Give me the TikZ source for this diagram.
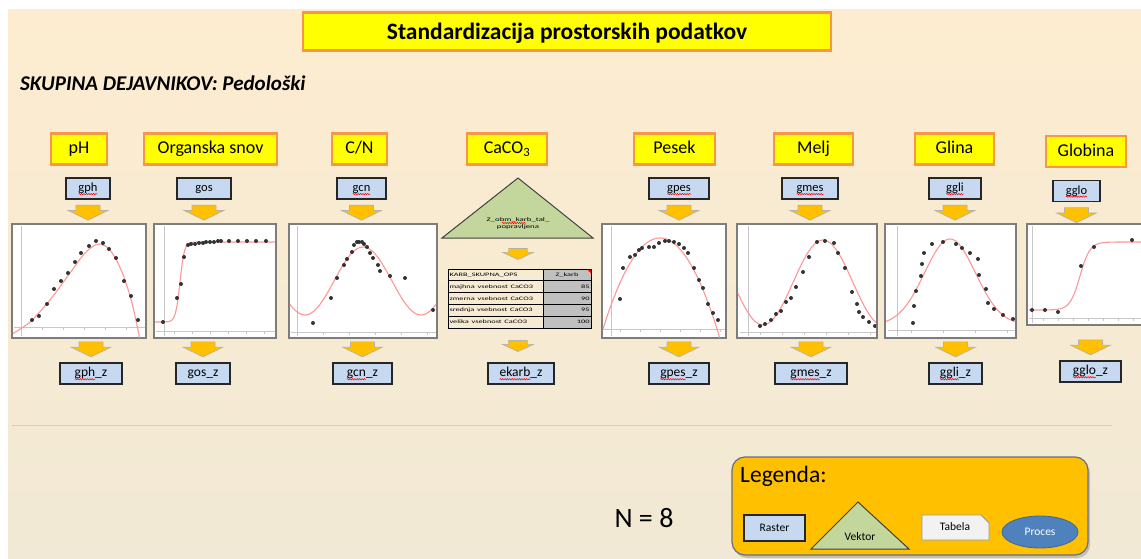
\documentclass[tikz,border=0pt]{standalone}
\usepackage{fontspec}
\setmainfont{Carlito}
\usetikzlibrary{calc,shapes.geometric,shadows,decorations.pathmorphing}

\definecolor{bgtop}{RGB}{253,236,208}
\definecolor{bgbot}{RGB}{241,233,213}
\definecolor{hdrfill}{RGB}{255,255,0}
\definecolor{hdrline}{RGB}{247,150,70}
\definecolor{rasterfill}{RGB}{198,217,241}
\definecolor{arrowfill}{RGB}{255,192,0}
\definecolor{arrowline}{RGB}{185,178,160}
\definecolor{chartline}{RGB}{125,125,125}
\definecolor{fitcolor}{RGB}{255,150,150}
\definecolor{vecfill}{RGB}{195,214,155}
\definecolor{procfill}{RGB}{79,129,189}
\definecolor{legline}{RGB}{100,112,135}
\definecolor{cellgrey}{RGB}{192,192,192}
\definecolor{sepline}{RGB}{243,200,150}

\newcommand{\xwide}[1]{\scalebox{1.6}[1]{#1}}
% red spell-check wave under the first part of a label
\newcommand{\wavy}[2]{\draw[spell] ([yshift=-2.6pt]#1.text) -- ++(#2,0);}

\begin{document}
\begin{tikzpicture}[x=1pt,y=-1pt,
	hdr/.style={draw=hdrline, line width=2.4pt, fill=hdrfill, minimum height=31pt, inner sep=0pt, text height=13.5pt, text depth=3.5pt, font=\fontsize{18}{20}\selectfont},
	raster/.style={draw=black!85, line width=1.3pt, fill=rasterfill, minimum height=21pt, inner sep=0pt, text height=9pt, text depth=3pt, font=\fontsize{12.5}{14}\selectfont},
	rasterz/.style={raster, text height=9.5pt, text depth=3.2pt, font=\fontsize{13.5}{15}\selectfont},
	chart/.style={draw=chartline, line width=2.4pt, fill=white, inner sep=0pt},
	fitcurve/.style={fitcolor, line width=1.1pt},
	dot/.style={fill=black!80},
	chartaxis/.style={black!22, line width=0.7pt},
	vecshape/.style={fill=vecfill, draw=black!75, line width=1pt},
	blockarrow/.style={fill=arrowfill, draw=arrowline, line width=0.7pt},
	spell/.style={red, line width=0.5pt, decorate, decoration={snake, amplitude=0.7pt, segment length=2.4pt}},
	cell/.style={draw=black, line width=0.9pt, inner sep=1.5pt, minimum height=11.8pt, font=\fontsize{5.2}{6}\selectfont},
	pics/blockdown/.style 2 args={code={
		\draw[blockarrow] (-0.3*#1,-0.5*#2) -- (0.3*#1,-0.5*#2) -- (0.3*#1,-0.15*#2) -- (0.5*#1,-0.15*#2) -- (0,0.5*#2) -- (-0.5*#1,-0.15*#2) -- (-0.3*#1,-0.15*#2) -- cycle;}}
]
	\useasboundingbox (0,0) rectangle (1141,559);
	\shade[top color=bgtop, bottom color=bgbot] (8,10) rectangle (1141,559);

	% title
	\node[hdr, minimum width=528pt, minimum height=38pt, text height=20pt, text depth=4pt, font=\fontsize{23.5}{25}\selectfont\bfseries] (title) at (567,31.5) {Standardizacija prostorskih podatkov};
	\node[anchor=base west, inner sep=0pt, font=\fontsize{21}{23}\selectfont\bfseries\itshape] (group) at (20,91) {SKUPINA DEJAVNIKOV: Pedološki};

	% factors
	\node[hdr, minimum width=56pt] (hph) at (79,149) {pH};
	\node[hdr, minimum width=133pt] (hos) at (210.5,149) {Organska snov};
	\node[hdr, minimum width=55pt] (hcn) at (359.5,149) {C/N};
	\node[hdr, minimum width=80pt] (hkarb) at (507,149) {CaCO\textsubscript{3}};
	\node[hdr, minimum width=81pt] (hpes) at (674.5,149) {Pesek};
	\node[hdr, minimum width=79pt] (hmes) at (813.5,149) {Melj};
	\node[hdr, minimum width=79pt] (hgli) at (954.5,149) {Glina};
	\node[hdr, minimum width=80pt] (hglo) at (1086,151.5) {Globina};

	% input rasters
	\node[raster, minimum width=44pt] (rph) at (88,188.5) {gph};
	\node[raster, minimum width=54pt] (ros) at (204,188.5) {gos};
	\node[raster, minimum width=49pt] (rcn) at (361.5,188.5) {gcn};
	\node[raster, minimum width=60pt] (rpes) at (679,188.5) {gpes};
	\node[raster, minimum width=56pt] (rmes) at (810,188.5) {gmes};
	\node[raster, minimum width=52pt] (rgli) at (955,188.5) {ggli};
	\node[raster, minimum width=47pt] (rglo) at (1076.5,191) {gglo};
	\wavy{rph}{19} \wavy{rcn}{17.7} \wavy{rpes}{23.6} \wavy{rmes}{27} \wavy{rgli}{17.5} \wavy{rglo}{21.2}

	% charts
	\node[chart, minimum width=134pt, minimum height=114pt] (cph) at (79,281) {};
	\node[chart, minimum width=122pt, minimum height=114pt] (cos) at (215,281) {};
	\node[chart, minimum width=148pt, minimum height=114pt] (ccn) at (363,281) {};
	\node[chart, minimum width=124pt, minimum height=114pt] (cpes) at (664,281) {};
	\node[chart, minimum width=140pt, minimum height=114pt] (cmes) at (807,281) {};
	\node[chart, minimum width=131pt, minimum height=114pt] (cgli) at (950.5,281) {};
	\node[chart, minimum width=126pt, minimum height=101pt] (cglo) at (1090,274.5) {};

	\begin{scope}
		\clip ([shift={(2,2)}]cph.north west) rectangle ([shift={(-2,-2)}]cph.south east);
		\draw[chartaxis] (21,226) -- (21,336) (14,327) -- (146,327);
		\foreach \t in {42,63,84,105,126} \draw[chartaxis] (\t,327) -- (\t,330);
		\draw[fitcurve] plot[smooth] coordinates {(12,334) (30,322) (50,300) (70,273) (85,253) (98,244) (110,250) (122,272) (132,303) (140,340)};
		\foreach \p in {(32,320),(39,316),(47,304),(54,289),(61,281),(68,273),(75,262),(81,253),(89,246),(96,241),(103,243),(109,249),(116,258),(124,281),(131,296),(138,320)}
			\fill[dot] \p circle (2);
	\end{scope}
	\begin{scope}
		\clip ([shift={(2,2)}]cos.north west) rectangle ([shift={(-2,-2)}]cos.south east);
		\draw[chartaxis] (164,226) -- (164,336) (156,331) -- (276,331);
		\foreach \t in {174,192,210,228,246,264} \draw[chartaxis] (\t,331) -- (\t,334);
		\draw[fitcurve] plot[domain=155:276, samples=90] (\x, {322-80/(1+exp(min(9,max(-9,-(\x-180)/2.2))))});
		\foreach \p in {(163,322),(177,298),(181,284),(184,257),(188,245),(191,244),(195,244),(199,243),(203,243),(206,242),(210,242),(214,242),(218,241),(221,241),(229,241),(238,241),(247,241),(256,241),(266,241)}
			\fill[dot] \p circle (2);
	\end{scope}
	\begin{scope}
		\clip ([shift={(2,2)}]ccn.north west) rectangle ([shift={(-2,-2)}]ccn.south east);
		\draw[chartaxis] (297,226) -- (297,336) (291,332) -- (437,332);
		\foreach \t in {323,349,375,401,427} \draw[chartaxis] (\t,332) -- (\t,335);
		\draw[fitcurve] plot[domain=289:437, samples=80] (\x, {281-34*cos(180*(\x-363)/58)});
		\foreach \p in {(313,323),(331,298),(337,278),(344,265),(347,259),(352,252),(354,245),(357,242),(359,242),(362,242),(364,244),(367,247),(370,253),(373,258),(378,265),(380,271),(390,276),(405,278),(433,310)}
			\fill[dot] \p circle (2);
	\end{scope}
	\begin{scope}
		\clip ([shift={(2,2)}]cpes.north west) rectangle ([shift={(-2,-2)}]cpes.south east);
		\draw[chartaxis] (611,226) -- (611,336) (604,329) -- (726,329);
		\foreach \t in {620,640,660,680,700,720} \draw[chartaxis] (\t,329) -- (\t,332);
		\draw[fitcurve] plot[domain=602:726, samples=60] (\x, {238+0.028*(\x-660)^2});
		\foreach \p in {(620,299),(623,268),(630,257),(635,255),(639,250),(642,248),(649,247),(654,247),(659,243),(665,241),(669,241),(674,242),(679,244),(684,248),(688,253),(694,268),(699,280),(703,288),(708,304),(713,313),(718,320)}
			\fill[dot] \p circle (2);
	\end{scope}
	\begin{scope}
		\clip ([shift={(2,2)}]cmes.north west) rectangle ([shift={(-2,-2)}]cmes.south east);
		\draw[chartaxis] (748,226) -- (748,336) (740,332) -- (877,332);
		\foreach \t in {760,782,804,826,848,870} \draw[chartaxis] (\t,332) -- (\t,335);
		\draw[fitcurve] plot[domain=737:877, samples=80] (\x, {282.5-42.5*cos(3*(\x-823))});
		\foreach \p in {(760,326),(765,324),(771,320),(776,314),(781,311),(786,302),(791,298),(796,287),(803,272),(809,257),(817,242),(825,241),(834,243),(838,253),(845,268),(852,292),(857,304),(859,312),(863,317),(869,322),(875,326)}
			\fill[dot] \p circle (2);
	\end{scope}
	\begin{scope}
		\clip ([shift={(2,2)}]cgli.north west) rectangle ([shift={(-2,-2)}]cgli.south east);
		\draw[chartaxis] (897,226) -- (897,336) (888,330) -- (1016,330);
		\foreach \t in {911,943,975,1007} \draw[chartaxis] (\t,330) -- (\t,333);
		\draw[fitcurve] plot[domain=885:1016, samples=80] (\x, {325-86*exp(-((\x-950)/36)^2)});
		\foreach \p in {(913,323),(914,306),(916,291),(921,276),(922,264),(924,253),(932,244),(943,242),(956,244),(962,248),(970,253),(978,259),(979,275),(986,289),(988,303),(994,309),(1003,315),(1013,319)}
			\fill[dot] \p circle (2);
	\end{scope}
	\begin{scope}
		\clip ([shift={(2,2)}]cglo.north west) rectangle (1141,323);
		\draw[chartaxis] (1032,226) -- (1032,323) (1029,318) -- (1141,318);
		\foreach \t in {1043,1058,1073,1088,1103,1118,1133} \draw[chartaxis] (\t,318) -- (\t,321);
		\draw[fitcurve] plot[domain=1029:1141, samples=70] (\x, {310-68/(1+exp(min(9,max(-9,-(\x-1080)/5))))});
		\foreach \p in {(1032,310),(1045,310),(1058,312),(1081,266),(1094,247),(1132,240)}
			\fill[dot] \p circle (2);
	\end{scope}

	% CaCO3: vector and table
	\draw[vecshape] (518,178) -- (593,238) -- (442,238) -- cycle;
	\node[align=center, inner sep=0pt, font=\fontsize{5.5}{7}\selectfont] (vkarb) at (518,224) {\xwide{Z\_obm\_karb\_tal\_}\\\xwide{popravljena}};
	\draw[spell] (502,223) -- (526,223);
	\foreach \l/\v [count=\i] in {majhna vsebnost CaCO3/85, zmerna vsebnost CaCO3/90, srednja vsebnost CaCO3/95, velika vsebnost CaCO3/100}{
		\node[cell, minimum width=95pt, text width=92pt, align=left] (tl\i) at (495.5,{274.9+11.8*\i}) {\xwide{\l}};
		\node[cell, fill=cellgrey, minimum width=48pt, text width=45pt, align=right] (tr\i) at (567,{274.9+11.8*\i}) {\xwide{\v}};
	}
	\node[cell, minimum width=95pt, text width=92pt, align=left] (tkarb) at (495.5,274.9) {\xwide{KARB\_SKUPNA\_OPS}};
	\node[cell, fill=cellgrey, minimum width=48pt] (tz) at (567,274.9) {\xwide{Z\_karb}};
	\fill[red] (591,269.5) -- (587,269.5) -- (591,273.5) -- cycle;

	% standardized rasters
	\node[rasterz, minimum width=62pt] (zph) at (91,373.5) {gph\_z};
	\node[rasterz, minimum width=54pt] (zos) at (203,373.5) {gos\_z};
	\node[rasterz, minimum width=59pt] (zcn) at (362.5,373.5) {gcn\_z};
	\node[rasterz, minimum width=66pt] (zkarb) at (521,373.5) {ekarb\_z};
	\node[rasterz, minimum width=60pt] (zpes) at (679,373.5) {gpes\_z};
	\node[rasterz, minimum width=72pt] (zmes) at (811,373.5) {gmes\_z};
	\node[rasterz, minimum width=53pt] (zgli) at (955.5,373.5) {ggli\_z};
	\node[rasterz, minimum width=61pt] (zglo) at (1090.5,371.5) {gglo\_z};
	\wavy{zph}{20.5} \wavy{zcn}{19.2} \wavy{zkarb}{31.1} \wavy{zpes}{25.4} \wavy{zmes}{29.1} \wavy{zgli}{18.9} \wavy{zglo}{22.9}

	% arrows
	\foreach \n in {ph,os,cn,pes,mes,gli,glo}{
		\pic at ($(r\n.south)+(0,13)$) {blockdown={40}{15}};
		\pic at ($(z\n.north)+(0,-13)$) {blockdown={40}{15}};
	}
	\pic at (518,254) {blockdown={31}{11}};
	\pic at (518,346) {blockdown={31}{11}};

	\draw[sepline, line width=0.8pt] (12,425) -- (1112,425);
	\node[font=\fontsize{28}{30}\selectfont] (count) at (644,518) {N = 8};

	% legend
	\node[draw=legline, line width=1.2pt, fill=arrowfill, rounded corners=13pt, minimum width=356pt, minimum height=98pt, drop shadow={opacity=0.4, shadow xshift=2pt, shadow yshift=-3pt}] (legend) at (910,506) {};
	\node[anchor=base west, inner sep=0pt, font=\fontsize{23.5}{25}\selectfont] (legtitle) at (740,482) {Legenda:};
	\node[raster, minimum width=61pt, minimum height=26pt, font=\fontsize{11.5}{13}\selectfont] (legraster) at (774.5,528) {Raster};
	\draw[vecshape] (858,502) -- (909,549) -- (811,549) -- cycle;
	\node[font=\fontsize{11.5}{13}\selectfont] (legvektor) at (860,537) {Vektor};
	\draw[fill=black!5, draw=black!40, line width=0.8pt] (922,515) -- (981,515) -- (989,523) -- (989,540) -- (922,540) -- cycle;
	\node[font=\fontsize{11.5}{13}\selectfont] (legtabela) at (955,527) {Tabela};
	\node[ellipse, fill=procfill, draw=procfill!80!black, line width=0.8pt, minimum width=76pt, minimum height=32pt, inner sep=0pt, text=white, font=\fontsize{11.5}{13}\selectfont] (legproc) at (1040,532) {Proces};
\end{tikzpicture}
\end{document}
